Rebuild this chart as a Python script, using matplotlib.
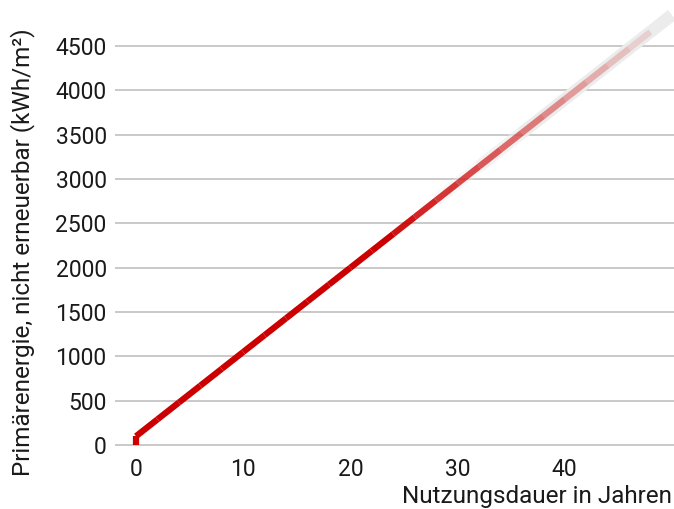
import numpy as np
import matplotlib.pyplot as plt
from matplotlib.collections import LineCollection

plt.rcParams['font.family'] = ['Roboto', 'DejaVu Sans']

# Data (every 2 years)
years = [0, 0, 2, 4, 6, 8, 10, 12, 14, 16, 18, 20, 22, 24,
         26, 28, 30, 32, 34, 36, 38, 40, 42, 44, 46, 48]
energy = [0, 100, 290, 480, 670, 860, 1050, 1240, 1430, 1620, 1810, 2000, 2190, 2380,
          2570, 2760, 2950, 3140, 3330, 3520, 3710, 3900, 4090, 4280, 4470, 4660]

# light grey projection band behind the fading part
band_years = [24, 28, 32, 36, 40, 44, 48, 50]
band_energy = [2380, 2760, 3140, 3520, 3900, 4280, 4660, 4850]

yticks = [0, 500, 1000, 1500, 2000, 2500, 3000, 3500, 4000, 4500]
xticks = [0, 10, 20, 30, 40]

red = np.array([204, 0, 0]) / 255
grey = np.array([236, 236, 236]) / 255

fig = plt.figure(figsize=(6.74, 5.09), dpi=100)
ax = fig.add_axes([115 / 674, 63 / 509, 559 / 674, 446 / 509])
ax.set_xlim(-1.96, 50.2)
ax.set_ylim(-10, 5019)

# grey band, fading in
pts = np.column_stack([band_years, band_energy])
segs = np.stack([pts[:-1], pts[1:]], axis=1)
alphas = np.clip((np.array(band_years[:-1]) - 24) / 12, 0, 1)
cols = [(*grey, a) for a in alphas]
ax.add_collection(LineCollection(segs, colors=cols, linewidths=9,
                                 capstyle='butt', zorder=2, clip_on=False))

# red line, fading out after ~24 years
pts = np.column_stack([years, energy])
segs = np.stack([pts[:-1], pts[1:]], axis=1)
x0 = np.array(years[:-1])
alphas = np.clip(1 - (x0 - 22) / 24 * 0.88, 0.12, 1)
cols = [(*red, a) for a in alphas]
ax.add_collection(LineCollection(segs, colors=cols, linewidths=4.5,
                                 capstyle='butt', zorder=3, clip_on=False))

ax.set_yticks(yticks)
ax.set_xticks(xticks)
ax.grid(axis='y', color='#c0c0c0', linewidth=1.2)
ax.set_axisbelow(True)
for s in ax.spines.values():
    s.set_visible(False)
ax.tick_params(length=0, labelsize=16.5, colors='#1a1a1a')
ax.tick_params(axis='y', pad=6)
ax.tick_params(axis='x', pad=9)

fig.text(0.997, 1 - 497 / 509, 'Nutzungsdauer in Jahren', ha='right', va='center',
         fontsize=17.5, color='#1a1a1a')
fig.text(23 / 674, 1 - 252 / 509, 'Primärenergie, nicht erneuerbar (kWh/m²)',
         rotation=90, ha='center', va='center', fontsize=17.5, color='#1a1a1a')

fig.savefig('out.png', dpi=100)
